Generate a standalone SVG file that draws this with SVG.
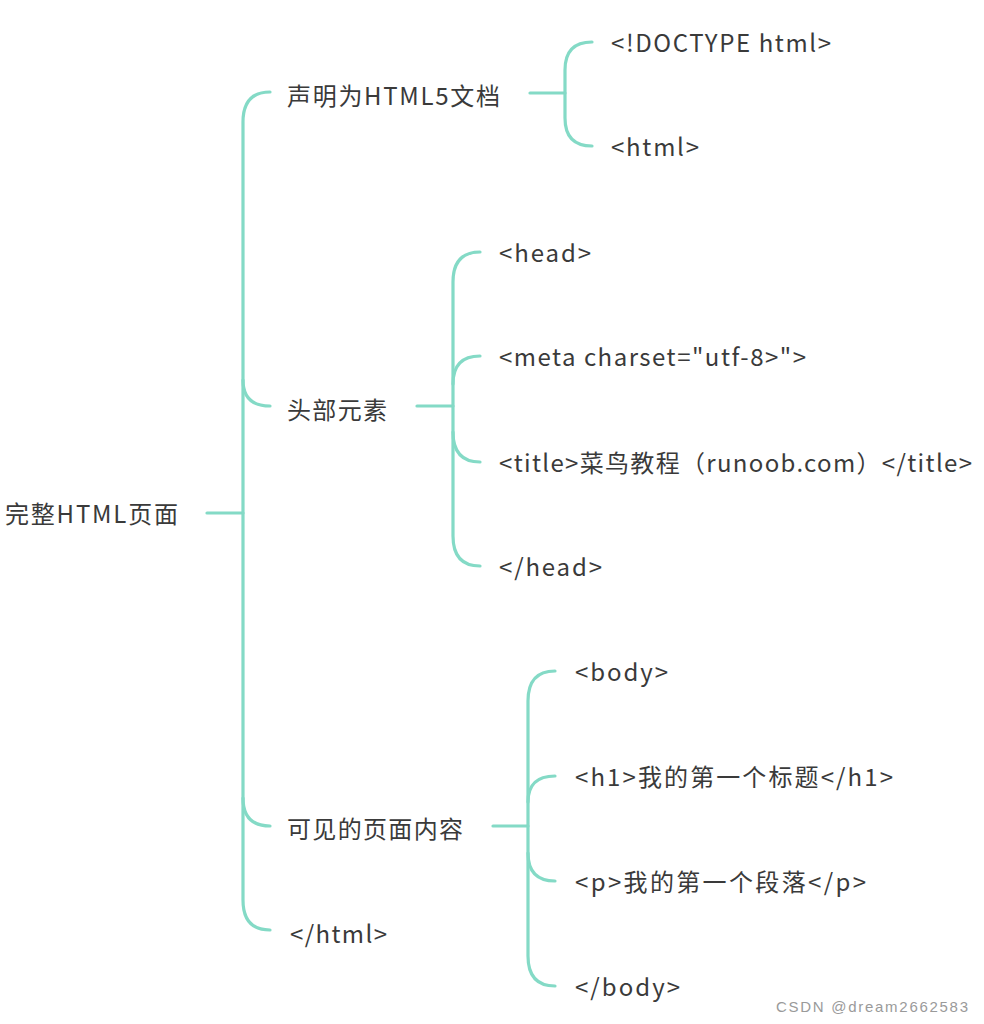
<svg xmlns="http://www.w3.org/2000/svg" width="984" height="1024" viewBox="0 0 984 1024">
<style>
.c{fill:none;stroke:#84dac6;stroke-width:3.2;stroke-linecap:round}
text{font-family:"Noto Sans CJK SC","Noto Sans",sans-serif;font-size:24px;fill:#3a3a3a;dominant-baseline:central}
.wm{font-family:"Liberation Sans",Arial,sans-serif;font-size:15px;fill:#9a9a9a}
</style>
<rect width="984" height="1024" fill="#ffffff"/>
<g id="connectors">
<path class="c" d="M207,513 L243,513"/>
<path class="c" d="M270,92 Q243,92 243,122 L243,900 Q243,930 270,930"/>
<path class="c" d="M243,380 Q243,406 270,406"/>
<path class="c" d="M243,798 Q243,826 270,826"/>
<path class="c" d="M530,93 L565,93"/>
<path class="c" d="M592,42 Q565,42 565,70 L565,118 Q565,146 592,146"/>
<path class="c" d="M417,406 L453,406"/>
<path class="c" d="M480,252 Q453,252 453,282 L453,536 Q453,566 480,566"/>
<path class="c" d="M453,384 Q453,356 480,356"/>
<path class="c" d="M453,432 Q453,462 480,462"/>
<path class="c" d="M493,826 L528,826"/>
<path class="c" d="M555,671 Q528,671 528,701 L528,956 Q528,986 555,986"/>
<path class="c" d="M528,802 Q528,776 555,776"/>
<path class="c" d="M528,853 Q528,881 555,881"/>
</g>
<g id="root"><text x="5" y="512" textLength="173">完整HTML页面</text></g>
<g id="n-decl"><text x="287" y="94" textLength="213">声明为HTML5文档</text></g>
<g id="n-head"><text x="287" y="408" textLength="100">头部元素</text></g>
<g id="n-visible"><text x="287" y="827" textLength="176">可见的页面内容</text></g>
<g id="n-html-close"><text x="290" y="932" textLength="97">&lt;/html&gt;</text></g>
<g id="n-doctype"><text x="611" y="41" textLength="220">&lt;!DOCTYPE html&gt;</text></g>
<g id="n-html"><text x="611" y="145" textLength="88">&lt;html&gt;</text></g>
<g id="n-head-open"><text x="499" y="251" textLength="92">&lt;head&gt;</text></g>
<g id="n-meta"><text x="499" y="355" textLength="307">&lt;meta charset="utf-8&gt;"&gt;</text></g>
<g id="n-title"><text x="499" y="461" textLength="473">&lt;title&gt;菜鸟教程（runoob.com）&lt;/title&gt;</text></g>
<g id="n-head-close"><text x="499" y="565" textLength="103">&lt;/head&gt;</text></g>
<g id="n-body"><text x="575" y="670" textLength="93">&lt;body&gt;</text></g>
<g id="n-h1"><text x="575" y="775" textLength="318">&lt;h1&gt;我的第一个标题&lt;/h1&gt;</text></g>
<g id="n-p"><text x="575" y="880" textLength="291">&lt;p&gt;我的第一个段落&lt;/p&gt;</text></g>
<g id="n-body-close"><text x="575" y="985" textLength="105">&lt;/body&gt;</text></g>
<text class="wm" x="776" y="1006" textLength="192">CSDN @dream2662583</text>
</svg>
